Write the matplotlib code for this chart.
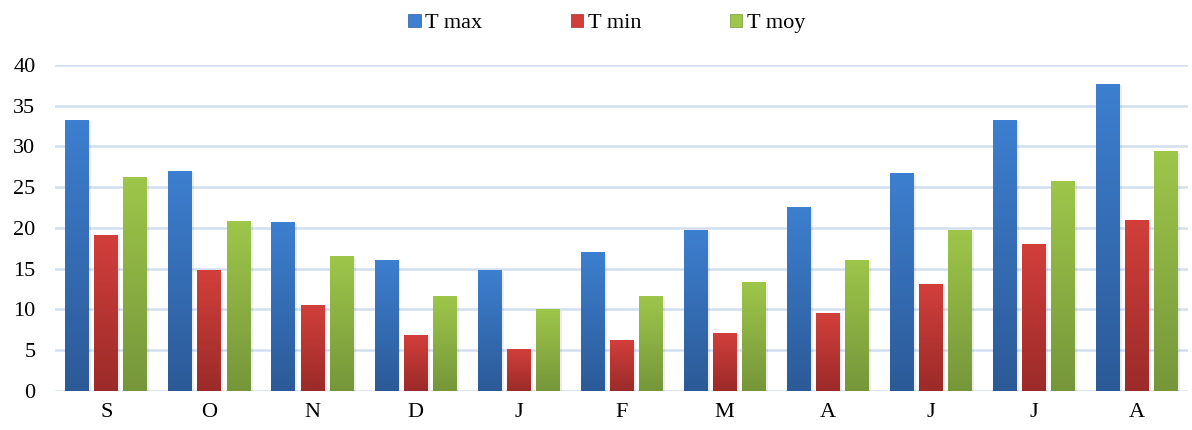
import numpy as np
import matplotlib.pyplot as plt
import matplotlib.patheffects as pe
from matplotlib.colors import LinearSegmentedColormap
from matplotlib.patches import Patch

plt.rcParams['font.family'] = ['Liberation Serif', 'DejaVu Serif']

months = ['S', 'O', 'N', 'D', 'J', 'F', 'M', 'A', 'J', 'J', 'A']
t_max = [33.3, 27.0, 20.7, 16.1, 14.8, 17.0, 19.7, 22.6, 26.7, 33.3, 37.7]
t_min = [19.1, 14.8, 10.5, 6.9, 5.1, 6.2, 7.1, 9.5, 13.1, 18.0, 21.0]
t_moy = [26.2, 20.8, 16.5, 11.6, 10.0, 11.6, 13.3, 16.1, 19.8, 25.7, 29.4]

series = [
    ('T max', t_max, '#3d7fd0', '#2c5a97'),
    ('T min', t_min, '#d23f3b', '#9b2b29'),
    ('T moy', t_moy, '#9ec64a', '#76963a'),
]

fig = plt.figure(figsize=(11.92, 4.30), dpi=100)
ax = fig.add_axes([0.046, 0.091, 0.951, 0.758])

x = np.arange(len(months))
w = 0.232
step = 0.282
grad = np.linspace(0, 1, 256).reshape(-1, 1)

handles = []
for i, (name, vals, c_top, c_bot) in enumerate(series):
    bars = ax.bar(x + (i - 1) * step, vals, width=w, color=c_top, zorder=3,
                  path_effects=[pe.SimplePatchShadow(offset=(1.5, -1), shadow_rgbFace='#000000', alpha=0.07), pe.Normal()])
    cmap = LinearSegmentedColormap.from_list(name, [c_bot, c_top])
    for b in bars:
        x0, y0 = b.get_x(), b.get_y()
        im = ax.imshow(grad, cmap=cmap, origin='lower', aspect='auto', zorder=4,
                       extent=[x0, x0 + b.get_width(), y0, y0 + b.get_height()])
        im.set_clip_path(b)
    handles.append(Patch(facecolor=c_top, edgecolor=c_bot, linewidth=0.5, label=name))

ax.set_xlim(-0.5, len(months) - 0.5)
ax.set_ylim(0, 40)
ax.set_yticks(range(0, 41, 5))
ax.set_xticks(x)
ax.set_xticklabels(months)
ax.tick_params(axis='both', length=0, labelsize=16, colors='#000000')
ax.tick_params(axis='y', pad=14)
ax.tick_params(axis='x', pad=9)
ax.grid(axis='y', color='#d3dff0', linewidth=1.8, zorder=0)
for s in ax.spines.values():
    s.set_visible(False)

fig.legend(handles=handles, loc='upper center', bbox_to_anchor=(0.509, 1.015), ncol=3,
           frameon=False, fontsize=16, handlelength=0.55, handleheight=0.55,
           handletextpad=0.2, columnspacing=4.0)

fig.savefig('out.png', dpi=100)
